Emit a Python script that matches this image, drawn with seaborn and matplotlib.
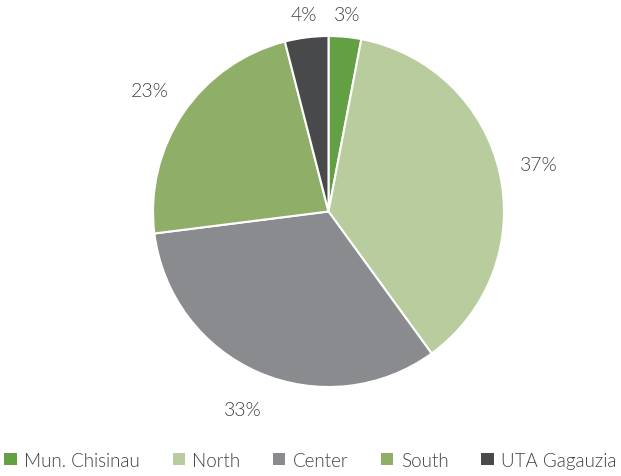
import numpy as np
import matplotlib
matplotlib.use("Agg")
import matplotlib.pyplot as plt
import seaborn as sns

regions = ["Mun. Chisinau", "North", "Center", "South", "UTA Gagauzia"]
shares = [3, 37, 33, 23, 4]
colors = ["#63a043", "#b9cc9d", "#8a8b8e", "#8faf69", "#48494b"]

sns.set_theme(style="white")
plt.rcParams["font.family"] = ["Lato", "DejaVu Sans"]
text_color = "#404040"

fig = plt.figure(figsize=(6.21, 4.77), dpi=100)
ax = fig.add_axes([153 / 621, (477 - 388) / 477, 351 / 621, 351 / 477])

wedges, texts, autotexts = ax.pie(
    shares,
    colors=sns.color_palette(colors),
    startangle=90,
    counterclock=False,
    autopct="%1.0f%%",
    pctdistance=1.23,
    wedgeprops=dict(edgecolor="white", linewidth=1.5),
    textprops=dict(color=text_color, fontsize=14, fontweight=300),
)

# labels near the top sit closer to the pie
for t in autotexts:
    x, y = t.get_position()
    ang = np.arctan2(y, x)
    if np.sin(ang) > 0.9:
        t.set_position((1.13 * np.cos(ang), 1.13 * np.sin(ang)))
    t.set_clip_on(False)

ax.set_xlim(-1, 1)
ax.set_ylim(-1, 1)
ax.set_aspect("auto")

leg = fig.legend(
    wedges,
    regions,
    loc="lower center",
    bbox_to_anchor=(0.5, -0.02),
    ncol=5,
    frameon=False,
    handlelength=0.65,
    handleheight=0.65,
    handletextpad=0.4,
    columnspacing=1.75,
    prop=dict(family=["Lato", "DejaVu Sans"], size=13.5, weight=300),
)
for t in leg.get_texts():
    t.set_color(text_color)
for h in leg.legend_handles:
    h.set_edgecolor("none")

fig.savefig("out.png", dpi=100)
